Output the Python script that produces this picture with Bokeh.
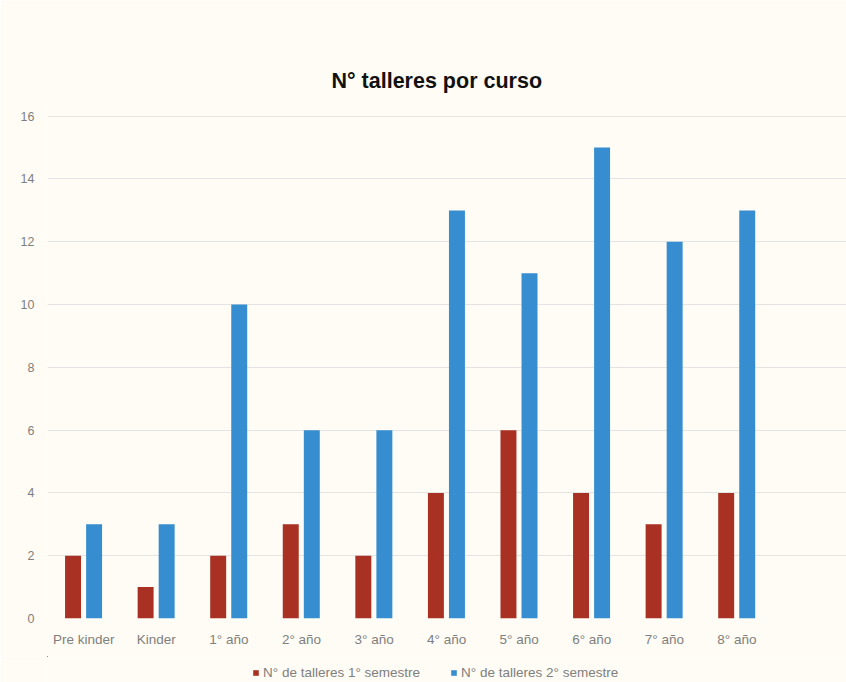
from bokeh.plotting import figure
from bokeh.layouts import column
from bokeh.models import Range1d, FixedTicker, ColumnDataSource, Legend, LegendItem
from bokeh.transform import dodge
from bokeh.embed import file_html
from bokeh.resources import INLINE

cursos = ["Pre kinder", "Kinder", "1° año", "2° año", "3° año",
          "4° año", "5° año", "6° año", "7° año", "8° año"]
semestre1 = [2, 1, 2, 3, 2, 4, 6, 4, 3, 4]
semestre2 = [3, 3, 10, 6, 6, 13, 11, 15, 12, 13]
y_ticks = [0, 2, 4, 6, 8, 10, 12, 14, 16]
serie1 = "N° de talleres 1° semestre"
serie2 = "N° de talleres 2° semestre"
titulo = "N° talleres por curso"

pos = [i + 0.5 for i in range(len(cursos))]
src = ColumnDataSource(dict(x=pos, s1=semestre1, s2=semestre2))

BG = "#FEFCF4"
GRAY = "#7F7F7F"
RED = "#A83123"
BLUE = "#368ED0"
FONT = "Liberation Sans"

p = figure(width=846, height=656, output_backend="svg", toolbar_location=None,
           x_range=Range1d(0, 11.01), y_range=Range1d(0, 16.5),
           min_border_left=47, min_border_right=0, min_border_top=100,
           min_border_bottom=38, title=titulo)

p.background_fill_color = BG
p.border_fill_color = BG
p.outline_line_color = None

p.title.align = "left"
p.title.text_font = FONT
p.title.text_font_size = "21.5px"
p.title.text_font_style = "bold"
p.title.text_color = "#111111"
p.title.offset = 284
p.title.standoff = 16

r1 = p.vbar(x=dodge("x", -0.148, range=p.x_range), top="s1", width=0.22,
            source=src, fill_color=RED, line_color=None)
r2 = p.vbar(x=dodge("x", 0.142, range=p.x_range), top="s2", width=0.22,
            source=src, fill_color=BLUE, line_color=None)

p.xaxis.ticker = FixedTicker(ticks=pos)
p.xaxis.major_label_overrides = {x: c for x, c in zip(pos, cursos)}
p.yaxis.ticker = FixedTicker(ticks=y_ticks)

for ax in (p.xaxis[0], p.yaxis[0]):
    ax.axis_line_color = None
    ax.major_tick_line_color = None
    ax.minor_tick_line_color = None
    ax.major_label_text_color = GRAY
    ax.major_label_text_font = FONT
p.xaxis.major_label_text_font_size = "13.5px"
p.yaxis.major_label_text_font_size = "12.5px"
p.xaxis.major_tick_out = 0
p.xaxis.major_label_standoff = 13
p.yaxis.major_label_standoff = 7

p.xgrid.grid_line_color = None
p.ygrid.ticker = FixedTicker(ticks=y_ticks)
p.ygrid.grid_line_color = "#E4E4E4"
p.ygrid.grid_line_width = 1

# separate strip holding the legend below the chart (its glyphs lie outside its view)
q = figure(width=846, height=26, output_backend="svg", toolbar_location=None,
           x_range=Range1d(50, 51), y_range=Range1d(-50, -49),
           min_border_left=0, min_border_right=0, min_border_top=0,
           min_border_bottom=0)
q.axis.visible = False
q.grid.visible = False
q.outline_line_color = None
q.background_fill_color = BG
q.border_fill_color = BG
k1 = q.vbar(x="x", top="s1", width=0.1, source=src, fill_color=RED, line_color=None)
k2 = q.vbar(x="x", top="s2", width=0.1, source=src, fill_color=BLUE, line_color=None)

legend = Legend(items=[LegendItem(label=serie1, renderers=[k1]),
                       LegendItem(label=serie2, renderers=[k2])],
                orientation="horizontal", location=(205, 2),
                background_fill_alpha=0, border_line_color=None,
                glyph_width=7, glyph_height=7, label_standoff=4,
                spacing=30, padding=0, margin=0,
                label_text_font=FONT, label_text_font_size="13.5px",
                label_text_color=GRAY, label_height=14)
q.add_layout(legend, "center")

layout = column(p, q, spacing=0)
open("out.html", "w").write(file_html(layout, INLINE))
